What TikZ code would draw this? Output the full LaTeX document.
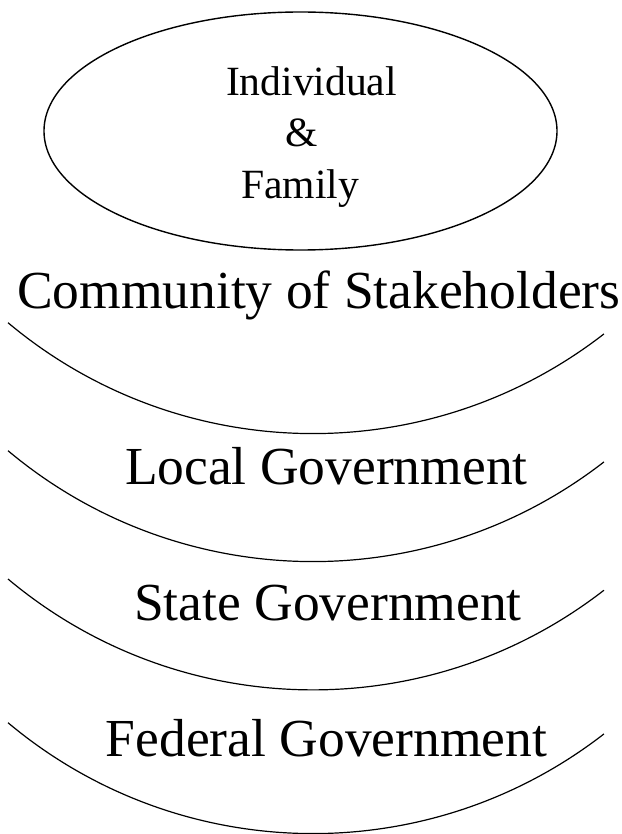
\documentclass[tikz,border=0pt]{standalone}
\usepackage{fontspec}
\setmainfont{Liberation Serif}
\begin{document}
\begin{tikzpicture}[x=1pt,y=-1pt,
  ring/.style={draw=black,line width=1.2pt},
  small/.style={font=\fontsize{41.6}{48}\selectfont,inner sep=0pt,anchor=base},
  big/.style={font=\fontsize{53.5}{60}\selectfont,inner sep=0pt,anchor=base}]
\useasboundingbox[fill=white] (0,0) rectangle (621,834);
% top ellipse
\draw[line width=1.4pt] (300.5,131) ellipse [x radius=256.5, y radius=119];
\node[small] (ind) at (311.5,96) {Individual};
\node[small] (amp) at (301.2,147) {\&};
\node[small] (fam) at (300,199) {Family};
% labels
\node[big] (com) at (318.7,308) {Community of Stakeholders};
\node[big] (loc) at (326.3,484) {Local Government};
\node[big] (sta) at (327.9,620) {State Government};
\node[big] (fed) at (326.6,756) {Federal Government};
% arcs
\foreach \dy in {0,128,256.3,400}{
  \draw[ring] (8,322.7+\dy) arc[start angle=129.97, end angle=52.19, radius=474.7];
}
\end{tikzpicture}
\end{document}
